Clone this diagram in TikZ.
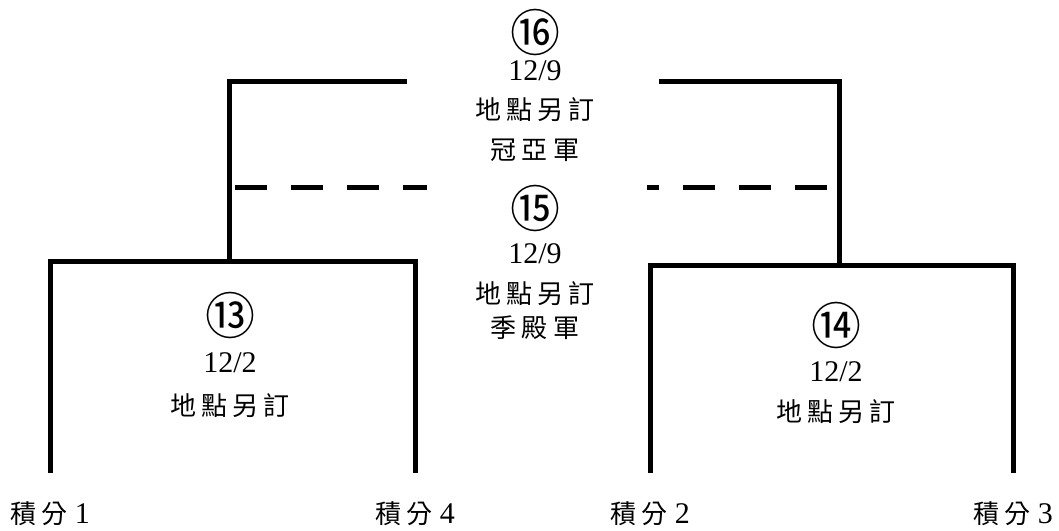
\documentclass[tikz,border=0pt]{standalone}
\usepackage{fontspec}
\setmainfont{Liberation Serif}
\newfontfamily\cjk[LetterSpace=20]{Noto Sans CJK TC}
\newfontfamily\seedfont{Noto Sans CJK TC}
\usetikzlibrary{positioning}

\tikzset{
  bracket/.style={line width=5pt},
  finalline/.style={line width=5pt, dash pattern=on 32pt off 24pt},
  datelbl/.style={font=\fontsize{30}{32}\selectfont, inner sep=0pt},
  placelbl/.style={font=\cjk\fontsize{26}{28}\selectfont, inner sep=0pt},
  seedlbl/.style={font=\seedfont\fontsize{50}{52}\selectfont, inner sep=0pt},
  teamlbl/.style={font=\fontsize{30}{32}\selectfont, inner sep=0pt},
}

\begin{document}
\begin{tikzpicture}[x=1pt, y=-1pt]
        \useasboundingbox (0,0) rectangle (1059,530);
        \coordinate (t1) at (50,473);
        \coordinate (t4) at (415,473);
        \coordinate (t2) at (650,473);
        \coordinate (t3) at (1013,473);
        \coordinate (m13) at (229,261);
        \coordinate (m14) at (839,265);
        \coordinate (fl) at (407,81);
        \coordinate (fr) at (659,81);
        \draw[bracket]
	(t1) |- (m13) -| (t4)
	(t2) |- (m14) -| (t3)
	(m13) |- (fl)
	(m14) |- (fr);
        \draw[finalline] (235,187) -- (427,187);
        \draw[finalline] (827,187) -- (647,187);

        \node[teamlbl, below=28pt of t1] (s1) {{\cjk\fontsize{26}{28}\selectfont 積分} 1};
        \node[teamlbl, below=28pt of t4] (s4) {{\cjk\fontsize{26}{28}\selectfont 積分} 4};
        \node[teamlbl, below=28pt of t2] (s2) {{\cjk\fontsize{26}{28}\selectfont 積分} 2};
        \node[teamlbl, below=28pt of t3] (s3) {{\cjk\fontsize{26}{28}\selectfont 積分} 3};

        \node[seedlbl] (g13) at (230,315) {⑬};
        \node[datelbl] (d13) at (230,363) {12/2};
        \node[placelbl] (p13) at (230,406) {地點另訂};

        \node[seedlbl] (g14) at (836,325) {⑭};
        \node[datelbl] (d14) at (836,372) {12/2};
        \node[placelbl] (p14) at (836,412) {地點另訂};

        \node[seedlbl] (g16) at (535,32) {⑯};
        \node[datelbl] (d16) at (535,71) {12/9};
        \node[placelbl] (p16) at (535,110) {地點另訂};
        \node[placelbl] (r16) at (535,150) {冠亞軍};

        \node[seedlbl] (g15) at (535,208) {⑮};
        \node[datelbl] (d15) at (535,254) {12/9};
        \node[placelbl] (p15) at (535,294) {地點另訂};
        \node[placelbl] (r15) at (535,328) {季殿軍};
\end{tikzpicture}
\end{document}
